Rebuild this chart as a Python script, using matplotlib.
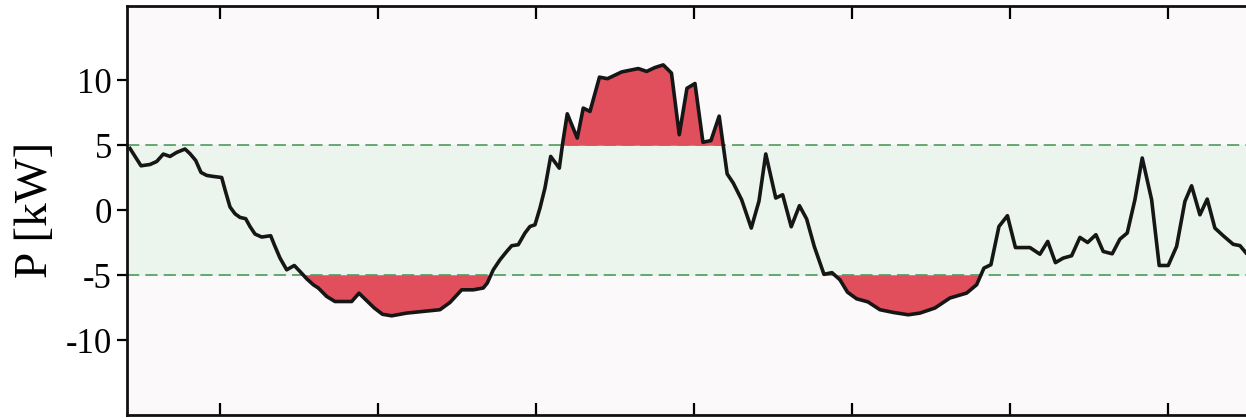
import numpy as np
import matplotlib
matplotlib.use("Agg")
import matplotlib.pyplot as plt

plt.rcParams["font.family"] = "serif"
plt.rcParams["font.serif"] = ["Liberation Serif", "DejaVu Serif"]
plt.rcParams["axes.unicode_minus"] = False

# time [h] and net power [kW]
hours = [
    1.713, 1.992, 2.220, 2.389, 2.557, 2.726, 2.896, 3.106, 3.233, 3.377,
    3.511, 3.656, 3.823, 4.035, 4.119, 4.246, 4.372, 4.499, 4.643, 4.752,
    4.879, 5.048, 5.276, 5.367, 5.512, 5.681, 5.874, 6.018, 6.188, 6.355,
    6.482, 6.694, 6.905, 7.327, 7.512, 7.900, 8.107, 8.340, 8.720, 9.141,
    9.563, 9.817, 10.113, 10.407, 10.660, 10.761, 10.913, 11.083, 11.253, 11.379,
    11.546, 11.716, 11.842, 11.969, 12.096, 12.222, 12.367, 12.585, 12.671, 12.787,
    13.040, 13.192, 13.362, 13.603, 13.805, 14.165, 14.585, 14.798, 15.008, 15.218,
    15.426, 15.623, 15.818, 16.021, 16.223, 16.426, 16.634, 16.836, 16.991, 17.203,
    17.447, 17.642, 17.814, 18.067, 18.242, 18.459, 18.667, 18.849, 19.042, 19.288,
    19.490, 19.693, 19.883, 20.115, 20.402, 20.705, 21.043, 21.422, 21.718, 22.098,
    22.478, 22.901, 23.154, 23.339, 23.516, 23.719, 23.934, 24.137, 24.504, 24.757,
    24.955, 25.150, 25.347, 25.560, 25.770, 25.965, 26.175, 26.360, 26.588, 26.783,
    26.968, 27.163, 27.348, 27.586, 27.778, 28.006, 28.219, 28.429, 28.598, 28.809,
    28.994, 29.188, 29.399, 29.652, 29.822, 29.974,
]
power = [
    4.75, 3.42, 3.52, 3.75, 4.32, 4.14, 4.45, 4.71, 4.35, 3.83,
    2.91, 2.68, 2.60, 2.52, 1.58, 0.25, -0.27, -0.55, -0.65, -1.25,
    -1.83, -2.06, -1.96, -2.65, -3.68, -4.58, -4.25, -4.71, -5.27, -5.73,
    -5.98, -6.63, -7.02, -7.02, -6.38, -7.52, -8.00, -8.12, -7.91, -7.78,
    -7.65, -7.09, -6.12, -6.12, -5.98, -5.60, -4.58, -3.81, -3.17, -2.73,
    -2.65, -1.75, -1.25, -1.12, 0.17, 1.71, 4.14, 3.24, 5.17, 7.42,
    5.55, 7.86, 7.60, 10.24, 10.12, 10.64, 10.90, 10.68, 10.98, 11.18,
    10.55, 5.81, 9.38, 9.75, 5.23, 5.36, 7.24, 2.80, 2.09, 0.81,
    -1.37, 0.70, 4.33, 0.94, 1.19, -1.27, 0.35, -0.67, -2.78, -4.93,
    -4.80, -5.35, -6.30, -6.81, -7.05, -7.65, -7.86, -8.04, -7.91, -7.52,
    -6.75, -6.37, -5.73, -4.45, -4.19, -1.25, -0.42, -2.87, -2.87, -3.38,
    -2.40, -4.03, -3.68, -3.50, -2.09, -2.48, -1.88, -3.17, -3.35, -2.22,
    -1.75, 0.81, 4.02, 0.81, -4.25, -4.25, -2.78, 0.68, 1.88, -0.35,
    0.86, -1.37, -1.96, -2.62, -2.72, -3.27,
]
p_max = 5.0
p_min = -5.0
x_ticks = [4, 8, 12, 16, 20, 24, 28]
y_ticks = [-10, -5, 0, 5, 10]

t = np.array(hours)
p = np.array(power)

fig = plt.figure(figsize=(12.46, 4.18), dpi=100)
ax = fig.add_axes([127 / 1246, 3 / 418, 1131 / 1246, 409.5 / 418])
ax.set_facecolor("#fbf9fa")

# allowed band
ax.axhspan(p_min, p_max, color="#ebf5ee", zorder=0)
for lim in (p_min, p_max):
    ax.axhline(lim, color="#3f9350", lw=1.1, ls=(0, (8, 4)), zorder=1)

# violations outside the band
red = "#e04f5b"
ax.fill_between(t, p, p_max, where=p > p_max, interpolate=True,
                color=red, lw=0, zorder=2)
ax.fill_between(t, p, p_min, where=p < p_min, interpolate=True,
                color=red, lw=0, zorder=2)

ax.plot(t, p, color="#161616", lw=2.6, solid_joinstyle="round", zorder=3)

ax.set_xlim(1.637, 30.28)
ax.set_ylim(-15.75, 15.75)
ax.set_xticks(x_ticks)
ax.set_xticklabels([])
ax.set_yticks(y_ticks)
ax.tick_params(axis="x", direction="in", top=True, length=9, width=1.6)
ax.tick_params(axis="y", direction="out", length=7, width=1.6, pad=4,
               labelsize=25)
for s in ax.spines.values():
    s.set_linewidth(2.0)
    s.set_color("#111111")

ax.set_ylabel("P [kW]", fontsize=34, labelpad=6)

fig.savefig("out.png", dpi=100)
